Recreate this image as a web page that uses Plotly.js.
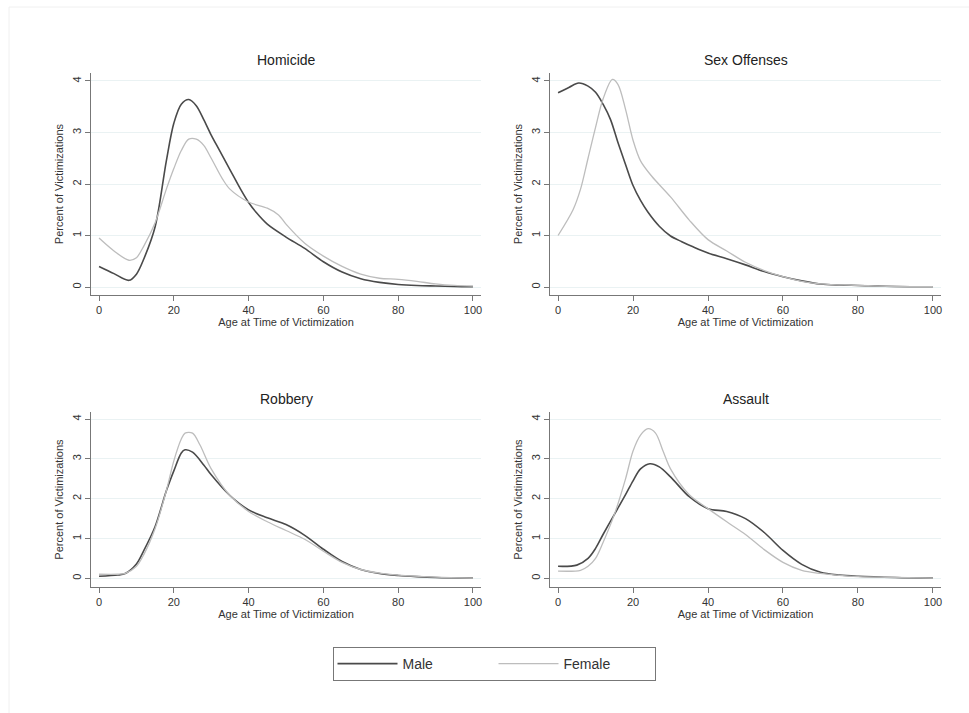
<!DOCTYPE html>
<html>
<head>
<meta charset="utf-8">
<script src="https://cdn.plot.ly/plotly-3.0.1.min.js"></script>
<style>html,body{margin:0;padding:0;background:#fff;}#chart{width:969px;height:713px;}</style>
</head>
<body>
<div id="chart"></div>
<script>
// ---- Data ----
var panelTitles = ["Homicide", "Sex Offenses", "Robbery", "Assault"];
var seriesNames = ["Male", "Female"];
var xTickVals = [0, 20, 40, 60, 80, 100];
var yTickVals = [0, 1, 2, 3, 4];
var xAxisLabel = "Age at Time of Victimization";
var yAxisLabel = "Percent of Victimizations";

var homicideMaleAge   = [0, 4, 8, 10, 12, 15, 18, 20, 22, 24, 26, 28, 30, 32, 35, 38, 40, 42, 45, 50, 55, 60, 65, 70, 75, 80, 85, 90, 95, 100];
var homicideMale      = [0.40, 0.26, 0.13, 0.25, 0.55, 1.17, 2.45, 3.18, 3.55, 3.64, 3.52, 3.25, 2.95, 2.68, 2.28, 1.88, 1.64, 1.45, 1.22, 0.97, 0.75, 0.49, 0.29, 0.16, 0.09, 0.05, 0.03, 0.02, 0.01, 0.005];
var homicideFemaleAge = [0, 4, 8, 10, 12, 15, 18, 20, 22, 24, 26, 28, 30, 33, 35, 40, 45, 48, 50, 55, 60, 65, 70, 75, 80, 85, 90, 95, 100];
var homicideFemale    = [0.95, 0.70, 0.52, 0.57, 0.80, 1.25, 1.90, 2.30, 2.65, 2.87, 2.87, 2.75, 2.50, 2.10, 1.90, 1.65, 1.53, 1.40, 1.22, 0.85, 0.60, 0.40, 0.25, 0.17, 0.15, 0.11, 0.06, 0.03, 0.02];

var sexMaleAge   = [0, 3, 5.5, 8, 10, 12, 14, 16, 18, 20, 22, 24, 27, 30, 33, 36, 40, 45, 50, 55, 60, 65, 70, 75, 80, 90, 100];
var sexMale      = [3.77, 3.88, 3.96, 3.90, 3.78, 3.55, 3.25, 2.80, 2.38, 1.97, 1.68, 1.45, 1.18, 0.99, 0.88, 0.78, 0.66, 0.55, 0.43, 0.30, 0.20, 0.12, 0.06, 0.04, 0.03, 0.01, 0.005];
var sexFemaleAge = [0, 4, 6, 8, 10, 12, 14.5, 16, 18, 20, 22, 25, 30, 35, 40, 45, 50, 55, 60, 65, 70, 80, 90, 100];
var sexFemale    = [1.00, 1.50, 1.90, 2.50, 3.10, 3.65, 4.03, 3.93, 3.45, 2.85, 2.45, 2.15, 1.75, 1.30, 0.92, 0.70, 0.48, 0.32, 0.20, 0.11, 0.06, 0.03, 0.01, 0.005];

var robberyMaleAge   = [0, 5, 7, 10, 12, 15, 18, 20, 22, 23, 25, 28, 30, 35, 40, 45, 50, 55, 60, 65, 70, 75, 80, 85, 90, 100];
var robberyMale      = [0.05, 0.08, 0.12, 0.36, 0.70, 1.30, 2.20, 2.70, 3.15, 3.23, 3.17, 2.85, 2.60, 2.08, 1.72, 1.52, 1.35, 1.08, 0.73, 0.42, 0.22, 0.12, 0.07, 0.04, 0.02, 0.005];
var robberyFemaleAge = [0, 5, 7, 10, 12, 15, 18, 20, 22, 23, 25, 27, 30, 35, 40, 45, 50, 55, 60, 65, 70, 75, 80, 90, 100];
var robberyFemale    = [0.10, 0.10, 0.12, 0.30, 0.60, 1.25, 2.20, 2.95, 3.50, 3.65, 3.65, 3.35, 2.75, 2.08, 1.68, 1.42, 1.20, 0.98, 0.68, 0.40, 0.22, 0.13, 0.08, 0.03, 0.005];

var assaultMaleAge   = [0, 5, 8, 10, 12, 15, 18, 20, 22, 24.5, 27, 30, 35, 40, 45, 50, 55, 60, 65, 70, 75, 80, 90, 100];
var assaultMale      = [0.30, 0.33, 0.50, 0.75, 1.10, 1.60, 2.10, 2.45, 2.75, 2.88, 2.80, 2.55, 2.05, 1.75, 1.68, 1.50, 1.15, 0.70, 0.35, 0.15, 0.08, 0.05, 0.02, 0.005];
var assaultFemaleAge = [0, 6, 8, 10, 12, 15, 18, 20, 22, 24, 26, 28, 30, 35, 40, 45, 50, 55, 60, 65, 70, 75, 80, 90, 100];
var assaultFemale    = [0.18, 0.20, 0.30, 0.50, 0.90, 1.60, 2.50, 3.20, 3.60, 3.76, 3.65, 3.20, 2.75, 2.10, 1.75, 1.42, 1.10, 0.72, 0.40, 0.20, 0.12, 0.07, 0.04, 0.02, 0.005];

var panelData = [
  [homicideMaleAge, homicideMale, homicideFemaleAge, homicideFemale],
  [sexMaleAge, sexMale, sexFemaleAge, sexFemale],
  [robberyMaleAge, robberyMale, robberyFemaleAge, robberyFemale],
  [assaultMaleAge, assaultMale, assaultFemaleAge, assaultFemale]
];

// ---- Styling / layout ----
var W = 969, H = 713;
var maleColor = "#4a4a4a", femaleColor = "#bdbdbd";
var xDomPx = [[91, 481], [550, 941], [91, 481], [550, 941]];
var yDomPx = [[73, 295], [73, 295], [412, 587], [412, 587]];
var yRanges = [[-0.155, 4.155], [-0.155, 4.155], [-0.22, 4.18], [-0.22, 4.18]];
var fontFam = "Liberation Sans, Arial, sans-serif";

var traces = [];
var layout = {
  width: W, height: H,
  margin: {l: 0, r: 0, t: 0, b: 0},
  paper_bgcolor: "#ffffff", plot_bgcolor: "#ffffff",
  font: {family: fontFam, color: "#333333", size: 11},
  showlegend: true,
  legend: {
    orientation: "h", x: 494 / W, xanchor: "center", y: 1 - 664 / H, yanchor: "middle",
    bordercolor: "#777777", borderwidth: 1, bgcolor: "#ffffff",
    font: {size: 14, color: "#333333"}, entrywidth: 86, itemwidth: 60
  },
  annotations: [],
  shapes: [{type: "rect", xref: "paper", yref: "paper", x0: 9 / W, x1: 1.01, y0: -0.01, y1: 1 - 7 / H,
            line: {color: "#f0f0f0", width: 1}, fillcolor: "rgba(0,0,0,0)", layer: "below"}]
};

for (var i = 0; i < 4; i++) {
  var sfx = i === 0 ? "" : String(i + 1);
  var d = panelData[i];
  traces.push({x: d[0], y: d[1], type: "scatter", mode: "lines", name: seriesNames[0],
    line: {color: maleColor, width: 1.6, shape: "spline", smoothing: 0.9},
    xaxis: "x" + sfx, yaxis: "y" + sfx, showlegend: i === 0, legendgroup: "m"});
  traces.push({x: d[2], y: d[3], type: "scatter", mode: "lines", name: seriesNames[1],
    line: {color: femaleColor, width: 1.3, shape: "spline", smoothing: 0.9},
    xaxis: "x" + sfx, yaxis: "y" + sfx, showlegend: i === 0, legendgroup: "f"});

  layout["xaxis" + sfx] = {
    domain: [xDomPx[i][0] / W, xDomPx[i][1] / W],
    range: [-2.15, 102.15], anchor: "y" + sfx,
    tickvals: xTickVals, ticks: "outside", ticklen: 5, tickcolor: "#777777",
    showline: true, linecolor: "#777777", linewidth: 1, showgrid: false, zeroline: false,
    tickfont: {size: 11, color: "#333333"},
    title: {text: xAxisLabel, font: {size: 11, color: "#333333"}, standoff: 0}
  };
  layout["yaxis" + sfx] = {
    domain: [1 - yDomPx[i][1] / H, 1 - yDomPx[i][0] / H],
    range: yRanges[i], anchor: "x" + sfx,
    tickvals: yTickVals, ticks: "outside", ticklen: 5, tickcolor: "#777777", tickangle: -90,
    showline: true, linecolor: "#777777", linewidth: 1,
    showgrid: true, gridcolor: "#eaf2f3", gridwidth: 1, zeroline: false,
    tickfont: {size: 11, color: "#333333"},
    title: {text: yAxisLabel, font: {size: 11, color: "#333333"}, standoff: 4}
  };
  layout.annotations.push({
    text: panelTitles[i], xref: "paper", yref: "paper",
    x: (xDomPx[i][0] + xDomPx[i][1]) / 2 / W, y: 1 - (yDomPx[i][0] - 13) / H,
    xanchor: "center", yanchor: "middle", showarrow: false,
    font: {size: 14, color: "#222222", family: fontFam}
  });
}

Plotly.newPlot("chart", traces, layout, {displayModeBar: false, staticPlot: true});
</script>
</body>
</html>
